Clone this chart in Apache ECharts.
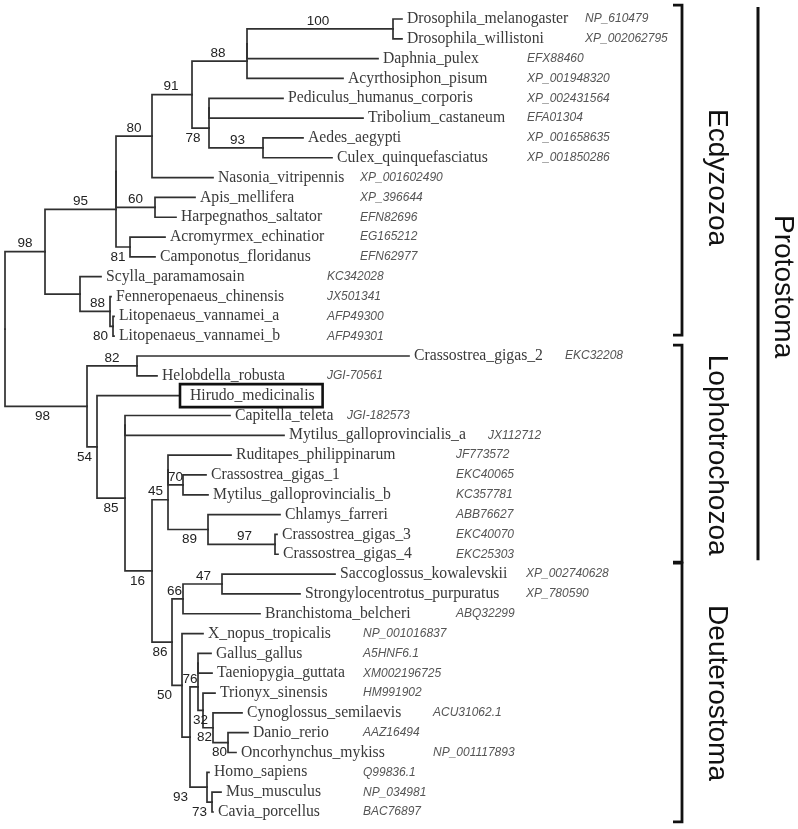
<!DOCTYPE html>
<html><head><meta charset="utf-8">
<script src="https://cdn.jsdelivr.net/npm/echarts@6/dist/echarts.min.js"></script>
<style>html,body{margin:0;padding:0;background:#fff}#c{width:798px;height:829px}</style>
</head><body><div id="c"></div>
<script>
// ---------- DATA ----------
// leaves, top to bottom
const leafNames = ['Drosophila_melanogaster','Drosophila_willistoni','Daphnia_pulex','Acyrthosiphon_pisum',
 'Pediculus_humanus_corporis','Tribolium_castaneum','Aedes_aegypti','Culex_quinquefasciatus','Nasonia_vitripennis',
 'Apis_mellifera','Harpegnathos_saltator','Acromyrmex_echinatior','Camponotus_floridanus','Scylla_paramamosain',
 'Fenneropenaeus_chinensis','Litopenaeus_vannamei_a','Litopenaeus_vannamei_b','Crassostrea_gigas_2','Helobdella_robusta',
 'Hirudo_medicinalis','Capitella_teleta','Mytilus_galloprovincialis_a','Ruditapes_philippinarum','Crassostrea_gigas_1',
 'Mytilus_galloprovincialis_b','Chlamys_farreri','Crassostrea_gigas_3','Crassostrea_gigas_4','Saccoglossus_kowalevskii',
 'Strongylocentrotus_purpuratus','Branchistoma_belcheri','X_nopus_tropicalis','Gallus_gallus','Taeniopygia_guttata',
 'Trionyx_sinensis','Cynoglossus_semilaevis','Danio_rerio','Oncorhynchus_mykiss','Homo_sapiens','Mus_musculus','Cavia_porcellus'];
const accessions = ['NP_610479','XP_002062795','EFX88460','XP_001948320','XP_002431564','EFA01304','XP_001658635',
 'XP_001850286','XP_001602490','XP_396644','EFN82696','EG165212','EFN62977','KC342028','JX501341','AFP49300','AFP49301',
 'EKC32208','JGI-70561','','JGI-182573','JX112712','JF773572','EKC40065','KC357781','ABB76627','EKC40070','EKC25303',
 'XP_002740628','XP_780590','ABQ32299','NP_001016837','A5HNF6.1','XM002196725','HM991902','ACU31062.1','AAZ16494',
 'NP_001117893','Q99836.1','NP_034981','BAC76897'];
// distance of each tip from the root (drawing units)
const tipDepth = [397,397,373,338,278,358,298,327,208,190,171,160,150,96,106,109,109,404,152,175,225,279,226,201,203,
 275,272,273,330,295,255,198,206,207,210,237,243,231,204,216,208];
// internal nodes: id, children (numbers = leaf index), depth from root, bootstrap support
const nodeIds   = ['A','B','C','D','E','F','G','H','I','J','K','L','M','N','O','P','Q','R','S','T','U','V','W','X','Y','Z',
 'AA','AB','AC','AD','AE','AF','AG','AH','AI','AJ','AK','AL','AM','root'];
const nodeKids  = [[0,1],['A',2],['B',3],[6,7],[4,5],['E','D'],['C','F'],['G',8],[9,10],['H','I'],[11,12],['J','K'],
 [15,16],[14,'M'],[13,'N'],['L','O'],[17,18],[23,24],[22,'R'],[26,27],[25,'T'],['S','U'],[28,29],['W',30],[36,37],[35,'Y'],
 [34,'Z'],[32,33],['AB','AA'],[39,40],[38,'AD'],['AC','AE'],[31,'AF'],['X','AG'],['V','AH'],[20,21],['AJ','AI'],[19,'AK'],
 ['Q','AL'],['P','AM']];
const nodeDepth = [388,242,242,258,204,204,187,147,150,111,125,111,108,105,75,40,132,178,163,270,203,163,217,178,223,208,
 198,193,193,207,202,185,177,167,147,120,120,92,82,0];
const nodeSupport = ['100','','88','93','','78','91','80','60','','81','95','80','88','','98','82','70','','97','89','45',
 '47','66','80','82','32','','76','73','93','','50','86','16','','85','54','98',''];
// clades
const groupNames = ['Ecdyzozoa','Lophotrochozoa','Deuterostoma'];
const groupFirst = [0,17,28];
const groupLast  = [16,27,40];
const superName = 'Protostoma';
const superFirst = 0, superLast = 27;
const highlightLeaf = ['Hirudo_medicinalis'];

// ---------- LAYOUT (styling only) ----------
const supportSide  = ['a','','a','a','','b','a','a','a','','b','a','b','a','','a','a','a','','a','b','a','a','a','b','b',
 'b','','a','b','b','','b','b','b','','b','b','b',''];
const supportNudge = [-2,0,-1.5,1.5,0,-7.5,-1,0,0,0,-5,0,-11,2.5,0,0,0,0,0,3,1.5,-4.5,1,-3,-1,-3.5,0,0,-4,-10,-18,0,
 -12.5,-2,-1,0,0,-7.5,-3.5,0];
const accX = [580,580,522,522,522,522,522,522,355,355,355,355,355,322,322,322,322,560,322,0,342,483,451,451,451,451,451,451,
 521,521,451,358,358,358,358,428,358,428,358,358,358];
const bracketFrom = [-0.7,16.45,27.45], bracketTo = [15.95,27.4,40.5];
const superFrom = -0.6, superTo = 27.3;
const bracketX = 677, superX = 753, groupTextX = 712, superTextX = 778;

// ---------- TREE GEOMETRY ----------
const idx = {}; nodeIds.forEach((id,i)=>idx[id]=i);
const yCache = {};
function nodeY(k){ if (typeof k==='number') return k; if (yCache[k]!==undefined) return yCache[k];
  const kids = nodeKids[idx[k]]; const v = (nodeY(kids[0])+nodeY(kids[1]))/2; yCache[k]=v; return v; }
function depthOf(k){ return typeof k==='number' ? tipDepth[k] : nodeDepth[idx[k]]; }
const edges = []; const parentOf = {};
nodeIds.forEach((id,i)=>{ nodeKids[i].forEach(c=>{ parentOf[c]=id;
  edges.push([nodeDepth[i], depthOf(c), nodeY(id), nodeY(c)]); }); });
const supportData = [];
nodeIds.forEach((id,i)=>{ if(!nodeSupport[i]) return; const p = parentOf[id];
  const mid = (nodeDepth[idx[p]] + nodeDepth[i])/2 + supportNudge[i];
  supportData.push([mid, nodeY(id), nodeSupport[i], supportSide[i]==='a'?-8:10]); });
const leafData = leafNames.map((n,i)=>[tipDepth[i], i, n, highlightLeaf.indexOf(n)>=0?1:0]);
const accData = accessions.map((a,i)=>[accX[i], i, a]).filter(d=>d[2]);
const bracketData = groupNames.map((g,i)=>[bracketX, bracketFrom[i], bracketTo[i], g, (groupFirst[i]+groupLast[i])/2]);

const LINE = '#303030';
const chart = echarts.init(document.getElementById('c'), null, {renderer:'canvas'});
chart.setOption({
  animation:false,
  backgroundColor:'#fff',
  grid:{left:0,right:0,top:0,bottom:0,containLabel:false},
  xAxis:{type:'value',min:-5,max:793,show:false},
  yAxis:{type:'value',inverse:true,min:-0.9584,max:40.858,show:false},
  series:[
    {type:'custom',coordinateSystem:'cartesian2d',data:edges,
     renderItem:(p,api)=>{
       const a=api.coord([api.value(0),api.value(2)]), b=api.coord([api.value(0),api.value(3)]), c=api.coord([api.value(1),api.value(3)]);
       return {type:'polyline',shape:{points:[a,b,c]},style:{stroke:LINE,lineWidth:1.7,fill:null,lineJoin:'miter',lineCap:'square'}};
     }},
    {type:'custom',coordinateSystem:'cartesian2d',data:leafData,
     renderItem:(p,api)=>{
       const pt=api.coord([api.value(0),api.value(1)]); const hl=api.value(3)===1;
       return {type:'text',x:hl?pt[0]:pt[0]+5,y:pt[1],style:{text:leafNames[api.value(1)],fill:'#3a3a3a',
         fontSize:15.7,fontFamily:'"Liberation Serif","Times New Roman",serif',align:'left',verticalAlign:'middle',
         borderColor:hl?'#111':null,borderWidth:hl?2.6:0,padding:hl?[4,8,3,10]:0}};
     }},
    {type:'custom',coordinateSystem:'cartesian2d',data:accData,
     renderItem:(p,api)=>{
       const pt=api.coord([api.value(0),api.value(1)]);
       return {type:'text',x:pt[0],y:pt[1],style:{text:accessions[api.value(1)],fill:'#555',fontSize:12,fontStyle:'italic',
         fontFamily:'"Liberation Sans",Arial,sans-serif',align:'left',verticalAlign:'middle'}};
     }},
    {type:'custom',coordinateSystem:'cartesian2d',data:supportData,
     renderItem:(p,api)=>{
       const pt=api.coord([api.value(0),api.value(1)]); const d=supportData[p.dataIndex];
       return {type:'text',x:pt[0],y:pt[1]+d[3],style:{text:d[2],fill:'#222',fontSize:13.5,
         fontFamily:'"Liberation Sans",Arial,sans-serif',align:'center',verticalAlign:'middle'}};
     }},
    {type:'custom',coordinateSystem:'cartesian2d',data:bracketData,
     renderItem:(p,api)=>{
       const t=api.coord([api.value(0),api.value(1)]), b=api.coord([api.value(0),api.value(2)]);
       const lab=api.coord([groupTextX,api.value(4)]);
       return {type:'group',children:[
         {type:'polyline',shape:{points:[[t[0]-9,t[1]],[t[0],t[1]],[b[0],b[1]],[b[0]-9,b[1]]]},
          style:{stroke:'#111',lineWidth:2.8,fill:null,lineJoin:'miter'}},
         {type:'text',x:lab[0],y:lab[1],rotation:-Math.PI/2,style:{text:groupNames[p.dataIndex],fill:'#111',fontSize:28,
          fontFamily:'"Liberation Sans",Arial,sans-serif',align:'center',verticalAlign:'middle'}}
       ]};
     }},
    {type:'custom',coordinateSystem:'cartesian2d',data:[[superX,superFrom,superTo,(superFirst+superLast)/2]],
     renderItem:(p,api)=>{
       const t=api.coord([api.value(0),api.value(1)]), b=api.coord([api.value(0),api.value(2)]);
       const lab=api.coord([superTextX,api.value(3)]);
       return {type:'group',children:[
         {type:'line',shape:{x1:t[0],y1:t[1],x2:b[0],y2:b[1]},style:{stroke:'#111',lineWidth:3}},
         {type:'text',x:lab[0],y:lab[1],rotation:-Math.PI/2,style:{text:superName,fill:'#111',fontSize:28,
          fontFamily:'"Liberation Sans",Arial,sans-serif',align:'center',verticalAlign:'middle'}}
       ]};
     }}
  ]
});
</script></body></html>
